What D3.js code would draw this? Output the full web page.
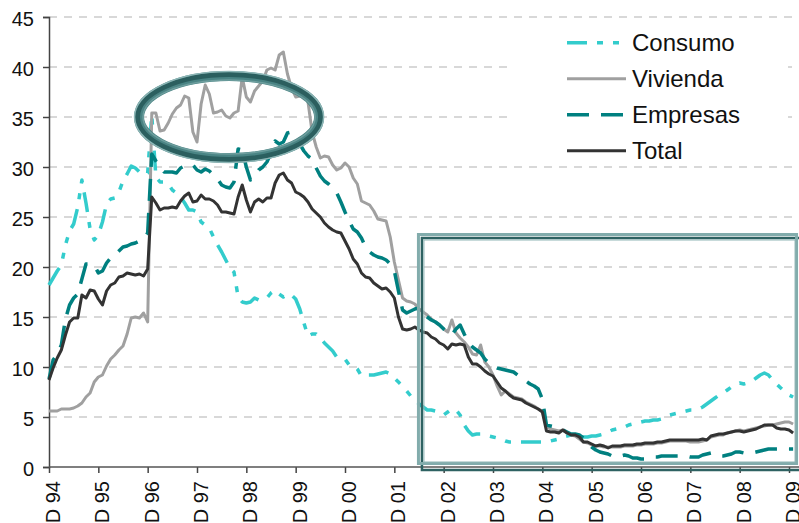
<!DOCTYPE html>
<html lang="es">
<head>
<meta charset="UTF-8">
<script src="https://cdn.jsdelivr.net/npm/d3@7/dist/d3.min.js"></script>
<title>Consumo, Vivienda, Empresas, Total</title>
<style>
    body { margin: 0; background: #fff; }
    svg { display: block; font-family: 'Liberation Sans', Arial, sans-serif; }
</style>
</head>
<body>
<svg id="chart" width="799" height="523"></svg>
<script>
    // monthly values, D 94 .. Jan 10
    const tickLabels = ["D 94", "D 95", "D 96", "D 97", "D 98", "D 99", "D 00", "D 01",
                        "D 02", "D 03", "D 04", "D 05", "D 06", "D 07", "D 08", "D 09"];
    const yTicks = [0, 5, 10, 15, 20, 25, 30, 35, 40, 45];

    const consumo = [
        18.2, 18.9, 19.6, 20.2, 22.2, 23.6, 24.3, 26.0, 28.7, 26.4,
        23.8, 22.7, 23.2, 24.5, 26.3, 26.8, 26.9, 27.5, 28.6, 29.3,
        30.1, 29.9, 29.5, 29.2, 29.4, 35.2, 29.0, 28.5, 28.5, 28.3,
        27.7, 27.4, 27.0, 26.4, 25.7, 25.7, 25.5, 24.5, 24.2, 23.9,
        23.0, 22.2, 21.5, 20.7, 19.9, 19.5, 17.0, 16.5, 16.4, 16.5,
        16.9, 16.7, 16.8, 16.9, 17.4, 17.7, 17.3, 17.0, 17.3, 17.2,
        16.8, 15.8, 14.4, 13.1, 13.3, 13.3, 12.9, 12.4, 12.0, 11.6,
        11.0, 10.9, 10.8, 10.2, 10.2, 9.8, 9.1, 9.2, 9.2, 9.2,
        9.3, 9.4, 9.5, 9.3, 8.9, 8.5, 8.1, 7.6, 7.1, 6.7,
        6.3, 6.0, 5.7, 5.7, 5.6, 5.4, 5.2, 5.5, 5.8, 5.7,
        5.2, 4.2, 3.6, 3.2, 3.3, 3.3, 3.2, 3.1, 3.0, 2.9,
        2.8, 2.6, 2.5, 2.5, 2.5, 2.5, 2.5, 2.5, 2.5, 2.5,
        2.5, 2.5, 2.6, 2.7, 2.8, 3.0, 3.1, 3.2, 3.2, 3.1,
        3.0, 3.0, 3.1, 3.1, 3.2, 3.3, 3.5, 3.7, 3.8, 3.9,
        4.0, 4.2, 4.3, 4.4, 4.5, 4.6, 4.6, 4.7, 4.7, 4.8,
        5.0, 5.2, 5.3, 5.4, 5.5, 5.6, 5.7, 5.7, 5.8, 6.0,
        6.3, 6.6, 6.9, 7.2, 7.4, 7.7, 8.0, 8.2, 8.4, 8.3,
        8.4, 8.6, 8.9, 9.2, 9.4, 9.2, 8.7, 8.3, 7.9, 7.5,
        7.2, 7.0
    ];

    const vivienda = [
        5.6, 5.6, 5.6, 5.8, 5.8, 5.8, 5.9, 6.1, 6.4, 7.0,
        7.4, 8.5, 9.0, 9.2, 10.1, 10.8, 11.2, 11.7, 12.1, 13.3,
        14.9, 15.0, 14.9, 15.4, 14.5, 35.4, 35.4, 33.6, 33.7, 34.4,
        35.3, 35.9, 36.2, 37.1, 36.9, 33.5, 32.5, 36.3, 38.2, 37.3,
        35.4, 35.5, 35.7, 35.1, 34.9, 35.4, 35.6, 39.0, 37.0, 36.5,
        37.6, 38.1, 38.6, 39.7, 39.9, 39.7, 41.2, 41.5, 39.3, 37.9,
        37.0, 37.1, 37.6, 36.5, 33.5, 32.0, 30.9, 31.1, 31.0, 30.2,
        29.7, 29.9, 30.4, 30.0, 28.9, 28.3, 26.6, 26.4, 26.2, 25.6,
        24.8, 24.7, 24.6, 23.0, 20.5, 18.7, 16.9, 16.6, 16.5, 16.3,
        15.8, 15.5, 15.2, 14.8, 14.5, 14.2, 13.8, 13.5, 14.7, 13.4,
        12.9, 12.5, 12.0, 11.3, 11.2, 12.2, 10.5, 10.0, 9.2, 8.1,
        7.2, 7.6, 7.3, 7.0, 6.9, 6.8, 6.5, 6.3, 6.1, 5.8,
        5.6, 4.0, 3.8, 3.7, 3.6, 3.7, 3.4, 3.2, 3.1, 2.8,
        2.5, 2.4, 2.2, 2.1, 2.1, 2.0, 2.0, 2.0, 2.0, 2.0,
        2.1, 2.1, 2.1, 2.2, 2.2, 2.3, 2.3, 2.3, 2.4, 2.4,
        2.5, 2.6, 2.6, 2.6, 2.6, 2.6, 2.5, 2.5, 2.5, 2.6,
        2.7, 3.0, 3.1, 3.2, 3.2, 3.4, 3.5, 3.6, 3.7, 3.6,
        3.7, 3.8, 3.9, 4.0, 4.1, 4.2, 4.2, 4.3, 4.4, 4.5,
        4.5, 4.3
    ];

    const empresas = [
        8.8, 10.7, 11.3, 12.2, 14.8, 16.2, 16.9, 17.3, 18.8, 20.3,
        20.3, 20.2, 19.4, 19.6, 20.4, 20.9, 21.2, 21.6, 22.0, 22.1,
        22.3, 22.4, 22.6, 22.8, 23.4, 31.3, 30.6, 30.0, 29.5, 29.5,
        29.5, 29.4, 29.9, 30.1, 30.3, 30.2, 29.7, 29.5, 29.8, 29.6,
        29.2, 28.8, 28.2, 28.0, 27.9, 28.5, 31.8, 31.7, 30.0, 28.7,
        29.1, 29.7, 30.0, 30.5, 31.4, 32.6, 32.3, 32.5, 33.4, 33.5,
        32.9, 32.3, 31.6, 31.1, 30.8, 29.9, 29.1, 28.6, 28.3, 27.9,
        27.4, 26.5, 25.5, 24.6, 23.8, 23.5, 22.9, 22.0, 21.5, 21.2,
        21.0, 20.9, 20.7, 20.3, 19.6, 17.6, 15.7, 15.4, 15.6, 15.8,
        15.9, 15.3, 15.0, 14.7, 14.5, 14.2, 13.8, 13.5, 13.2, 13.8,
        14.2, 13.3, 12.5, 12.0, 11.7, 11.4, 10.8, 10.4, 10.1, 9.9,
        9.8, 9.7, 9.6, 9.5, 9.2, 8.9, 8.6, 8.3, 8.1, 7.8,
        6.8, 4.2, 4.1, 4.0, 3.9, 3.7, 3.5, 3.3, 3.3, 3.2,
        2.9, 2.4, 2.0, 1.7, 1.5, 1.4, 1.3, 1.1, 1.0, 1.1,
        1.2, 1.1, 0.9, 0.9, 0.8, 0.8, 0.9, 1.0, 1.0, 1.1,
        1.1, 1.1, 1.1, 1.1, 1.1, 1.1, 1.0, 1.0, 1.0, 1.2,
        1.3, 1.4, 1.3, 1.1, 1.1, 1.2, 1.3, 1.5, 1.5, 1.4,
        1.4, 1.4, 1.5, 1.6, 1.7, 1.8, 1.8, 1.8, 1.8, 1.8,
        1.8, 1.8
    ];

    const total = [
        8.7, 9.9, 10.9, 11.7, 13.2, 14.5, 14.9, 14.9, 17.2, 16.9,
        17.7, 17.6, 16.8, 16.2, 17.6, 18.2, 18.4, 19.0, 19.1, 19.4,
        19.3, 19.2, 19.3, 19.1, 19.8, 27.0, 26.4, 25.7, 25.9, 25.9,
        26.0, 25.9, 26.6, 27.1, 27.4, 26.5, 26.6, 27.2, 26.8, 26.8,
        26.6, 26.2, 25.5, 25.5, 25.4, 25.3, 27.0, 28.2, 26.7, 25.5,
        26.5, 26.8, 26.5, 26.9, 26.9, 28.4, 29.2, 29.4, 28.7, 28.4,
        27.5, 27.3, 27.0, 26.5, 25.8, 25.4, 25.0, 24.4, 24.0, 23.7,
        23.5, 23.4, 22.6, 21.8, 20.8, 20.3, 19.4, 19.0, 18.9, 18.4,
        18.1, 17.8, 17.9, 17.5, 16.9, 15.0, 13.8, 13.7, 13.8, 14.0,
        13.7, 13.5, 13.4, 13.0, 12.8, 12.4, 12.2, 11.8, 12.3, 12.2,
        12.3, 12.2, 11.0, 10.3, 10.3, 10.0, 9.6, 9.3, 9.1, 8.5,
        7.9, 7.6, 7.2, 6.9, 6.8, 6.7, 6.4, 6.2, 6.0, 5.8,
        5.5, 3.6, 3.5, 3.5, 3.4, 3.7, 3.4, 3.2, 3.2, 3.0,
        2.5, 2.5, 2.3, 2.1, 2.2, 2.1, 1.9, 2.1, 2.1, 2.1,
        2.2, 2.2, 2.2, 2.3, 2.3, 2.4, 2.4, 2.4, 2.5, 2.5,
        2.6, 2.7, 2.7, 2.7, 2.7, 2.7, 2.7, 2.7, 2.7, 2.8,
        2.7, 3.1, 3.2, 3.3, 3.3, 3.4, 3.5, 3.6, 3.6, 3.5,
        3.6, 3.7, 3.8, 4.0, 4.2, 4.2, 4.2, 3.9, 3.8, 3.8,
        3.7, 3.4
    ];

    const series = [
        { name: "Consumo",  values: consumo,  color: "#33CCCC", width: 3.5, dash: "20,10,6,10,6,10" },
        { name: "Vivienda", values: vivienda, color: "#A0A0A0", width: 3,   dash: null },
        { name: "Empresas", values: empresas, color: "#008080", width: 3.5, dash: "22,12" },
        { name: "Total",    values: total,    color: "#333333", width: 3,   dash: null }
    ];

    // highlight annotations, in data units (months from D 94, percent)
    const ringCenter = [43.8, 35.0];
    const ringRadius = [21.9, 4.1];
    const boxMonths = [89.5, 182.2];
    const boxValues = [0.2, 23.4];

    const svg = d3.select("#chart");
    const x = d3.scaleLinear().domain([0, 180]).range([49, 789]);
    const y = d3.scaleLinear().domain([0, 45]).range([467, 17]);

    // grid
    svg.append("g")
        .selectAll("line")
        .data(yTicks.filter(d => d > 0))
        .enter()
        .append("line")
        .attr("x1", x(0))
        .attr("x2", 799)
        .attr("y1", d => y(d))
        .attr("y2", d => y(d))
        .attr("stroke", "#CCCCCC")
        .attr("stroke-width", 1.5)
        .attr("stroke-dasharray", "8,7");

    // y axis
    const yAxis = svg.append("g")
        .attr("transform", `translate(${x(0)},0)`)
        .call(d3.axisLeft(y).tickValues(yTicks).tickSize(6).tickPadding(9));
    yAxis.select(".domain").attr("stroke", "#444").attr("stroke-width", 1.5);
    yAxis.selectAll(".tick line").attr("stroke", "#444").attr("stroke-width", 1.5);
    yAxis.selectAll(".tick text")
        .attr("font-family", "'Liberation Sans', Arial, sans-serif")
        .attr("font-size", 20)
        .attr("fill", "#111")
        .attr("dy", "0.4em");

    // x axis
    const monthTicks = tickLabels.map((d, i) => i * 12);
    const xAxis = svg.append("g")
        .attr("transform", `translate(0,${y(0)})`)
        .call(d3.axisBottom(x).tickValues(monthTicks).tickSize(6).tickFormat(""));
    xAxis.select(".domain").remove();
    xAxis.append("line")
        .attr("x1", x(0)).attr("x2", 799)
        .attr("stroke", "#555").attr("stroke-width", 1.5);
    xAxis.selectAll(".tick line").attr("stroke", "#444").attr("stroke-width", 1.5);

    svg.append("g")
        .selectAll("text")
        .data(tickLabels)
        .enter()
        .append("text")
        .attr("transform", (d, i) => `translate(${x(i * 12) + 11},${y(0) + 14}) rotate(-90)`)
        .attr("text-anchor", "end")
        .attr("font-size", 20)
        .attr("fill", "#111")
        .text(d => d);

    // lines
    const line = d3.line()
        .x((d, i) => x(i))
        .y(d => y(d));

    svg.append("g")
        .selectAll("path")
        .data(series)
        .enter()
        .append("path")
        .attr("d", d => line(d.values))
        .attr("fill", "none")
        .attr("stroke", d => d.color)
        .attr("stroke-width", d => d.width)
        .attr("stroke-linejoin", "round")
        .attr("stroke-dasharray", d => d.dash);

    // legend
    const legend = svg.append("g");
    legend.append("rect")
        .attr("x", 513).attr("y", 22)
        .attr("width", 275).attr("height", 140)
        .attr("fill", "#fff");

    const item = legend.selectAll("g")
        .data(series)
        .enter()
        .append("g")
        .attr("transform", (d, i) => `translate(567,${42.7 + i * 36})`);

    item.append("line")
        .attr("x1", 0).attr("x2", 59)
        .attr("stroke", d => d.color)
        .attr("stroke-width", d => d.width)
        .attr("stroke-dasharray", d => d.dash);

    item.append("text")
        .attr("x", 65)
        .attr("y", 8.5)
        .attr("font-size", 24)
        .attr("fill", "#111")
        .text(d => d.name);

    // ring around the 1996-99 peak
    const cx = x(ringCenter[0]), cy = y(ringCenter[1]);
    const rx = x(ringCenter[0] + ringRadius[0]) - cx;
    const ry = y(ringCenter[1] - ringRadius[1]) - cy;
    const ring = svg.append("g");
    [
        { dr: 0, w: 10, c: "#4A8484" },
        { dr: 1.5, w: 5, c: "#2B5F5F" },
        { dr: 4.5, w: 1.5, c: "#8DB6B6" },
        { dr: -4, w: 1.5, c: "#6E9E9E" }
    ].forEach(s => {
        ring.append("ellipse")
            .attr("cx", cx).attr("cy", cy)
            .attr("rx", rx + s.dr).attr("ry", ry + s.dr)
            .attr("fill", "none")
            .attr("stroke", s.c)
            .attr("stroke-width", s.w);
    });

    // frame around 2002-09
    const bx0 = x(boxMonths[0]), bx1 = x(boxMonths[1]);
    const by0 = y(boxValues[1]), by1 = y(boxValues[0]);
    svg.append("rect")
        .attr("x", bx0 + 5).attr("y", by0 + 5)
        .attr("width", bx1 - bx0).attr("height", by1 - by0)
        .attr("fill", "none")
        .attr("stroke", "#2E6262")
        .attr("stroke-width", 2.5);
    svg.append("rect")
        .attr("x", bx0 + 1.5).attr("y", by0 + 1.5)
        .attr("width", bx1 - bx0 - 3).attr("height", by1 - by0 - 3)
        .attr("fill", "none")
        .attr("stroke", "#82ACAC")
        .attr("stroke-width", 3);
    svg.append("rect")
        .attr("x", bx0 + 7).attr("y", by0 + 7)
        .attr("width", bx1 - bx0 - 10).attr("height", by1 - by0 - 10)
        .attr("fill", "none")
        .attr("stroke", "#8FB5B5")
        .attr("stroke-width", 1);
</script>
</body>
</html>
